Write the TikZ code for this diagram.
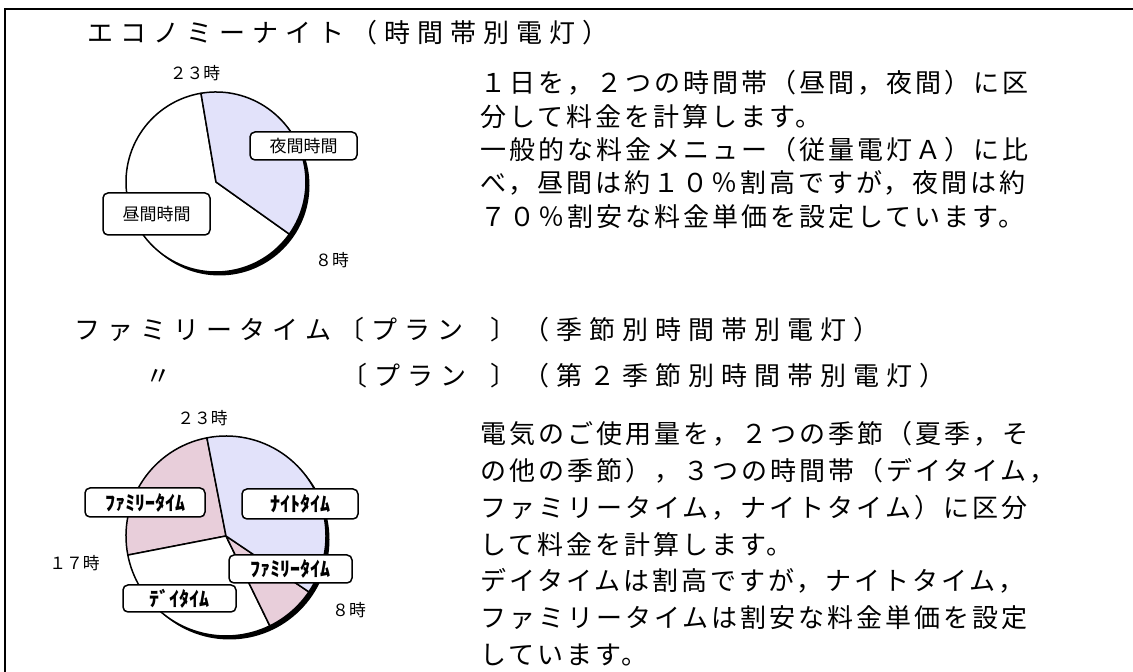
\documentclass[tikz,border=0pt]{standalone}
\usepackage{fontspec}
\setmainfont{Noto Sans CJK JP}
\newfontfamily\bodyjp[LetterSpace=11.5]{Noto Sans CJK JP}
\newfontfamily\titlejp[LetterSpace=27]{Noto Sans CJK JP}
\usetikzlibrary{calc}
\definecolor{nightfill}{RGB}{226,226,250}
\definecolor{familyfill}{RGB}{232,206,218}
\tikzset{
  slice/.style={draw=black, line width=0.75pt, line join=round},
  tag/.style={draw=black, fill=white, line width=0.75pt, rounded corners=2.5pt, inner sep=0pt, font=\fontsize{8.5}{10}\selectfont},
  kanatag/.style={tag, font=\fontsize{10}{11}\selectfont\bfseries},
  hour/.style={inner sep=0pt, font=\fontsize{8.4}{10}\selectfont},
  headline/.style={inner sep=0pt, anchor=base west, font=\fontsize{13}{16}\titlejp},
  para/.style={inner sep=0pt, anchor=north west, align=left, font=\fontsize{13}{16.67}\bodyjp},
}

\begin{document}
\begin{tikzpicture}[x=0.5pt,y=0.5pt]
  \useasboundingbox (0,0) rectangle (1133,672);
  % frame
  \draw[line width=1pt] (5,0) -- (5,663) -- (1133,663);

  % economy night
  \node[headline] (econtitle) at (87,629.6) {エコノミーナイト（時間帯別電灯）};
  \coordinate (econc) at (216,490);
  \fill[black] ([shift={(3.5,-3.5)}]econc) circle[radius=90];
  \filldraw[slice, fill=white] (econc) -- ++(-35.4:90) arc[start angle=-35.4, delta angle=-225, radius=90] -- cycle;
  \filldraw[slice, fill=nightfill] (econc) -- ++(99.6:90) arc[start angle=99.6, delta angle=-135, radius=90] -- cycle;
  \node[hour] (econh23) at (195,599) {２３時};
  \node[hour] (econh8) at (332,412) {８時};
  \node[tag, minimum width=53.5pt, minimum height=14pt] (econnight) at (303.5,526) {夜間時間};
  \node[tag, minimum width=53.5pt, minimum height=21pt] (econday) at (156.5,458) {昼間時間};
  \node[para] (econtext) at (480,601.7) {１日を，２つの時間帯（昼間，夜間）に区\\分して料金を計算します。\\一般的な料金メニュー（従量電灯Ａ）に比\\べ，昼間は約１０％割高ですが，夜間は約\\７０％割安な料金単価を設定しています。};

  % family time
  \node[headline] (famtitle) at (74,332) {ファミリータイム〔プラン};
  \node[headline] (famtitleb) at (490,332) {〕（季節別時間帯別電灯）};
  \node[headline] (dittomark) at (145,286.6) {〃};
  \node[headline] (famplan) at (341,286.6) {〔プラン};
  \node[headline] (famplanb) at (490,286.6) {〕（第２季節別時間帯別電灯）};
  \coordinate (famc) at (226,136);
  \fill[black] ([shift={(3.5,-3.5)}]famc) circle[radius=100];
  \filldraw[slice, fill=familyfill] (famc) -- ++(101:100) arc[start angle=101, end angle=191, radius=100] -- cycle;
  \filldraw[slice, fill=white] (famc) -- ++(191:100) arc[start angle=191, end angle=296, radius=100] -- cycle;
  \filldraw[slice, fill=familyfill] (famc) -- ++(296:100) arc[start angle=296, end angle=326, radius=100] -- cycle;
  \filldraw[slice, fill=nightfill] (famc) -- ++(326:100) arc[start angle=326, end angle=461, radius=100] -- cycle;
  \node[hour] (famh23) at (202.5,254) {２３時};
  \node[hour] (famh17) at (74.5,109) {１７時};
  \node[hour] (famh8) at (349,62) {８時};
  \node[kanatag, minimum width=60pt, minimum height=14.5pt] (fameve) at (145,169.5) {ﾌｧﾐﾘｰﾀｲﾑ};
  \node[kanatag, minimum width=58pt, minimum height=15pt] (famnight) at (300,168) {ﾅｲﾄﾀｲﾑ};
  \node[kanatag, minimum width=61.5pt, minimum height=14pt] (fammorn) at (290.5,103) {ﾌｧﾐﾘｰﾀｲﾑ};
  \node[kanatag, minimum width=56.5pt, minimum height=13.5pt] (famday) at (179.5,73.5) {ﾃﾞｲﾀｲﾑ};
  \node[para, font=\fontsize{13}{18.35}\bodyjp] (famtext) at (480,250.7) {電気のご使用量を，２つの季節（夏季，そ\\の他の季節），３つの時間帯（デイタイム，\\ファミリータイム，ナイトタイム）に区分\\して料金を計算します。\\デイタイムは割高ですが，ナイトタイム，\\ファミリータイムは割安な料金単価を設定\\しています。};
\end{tikzpicture}
\end{document}
